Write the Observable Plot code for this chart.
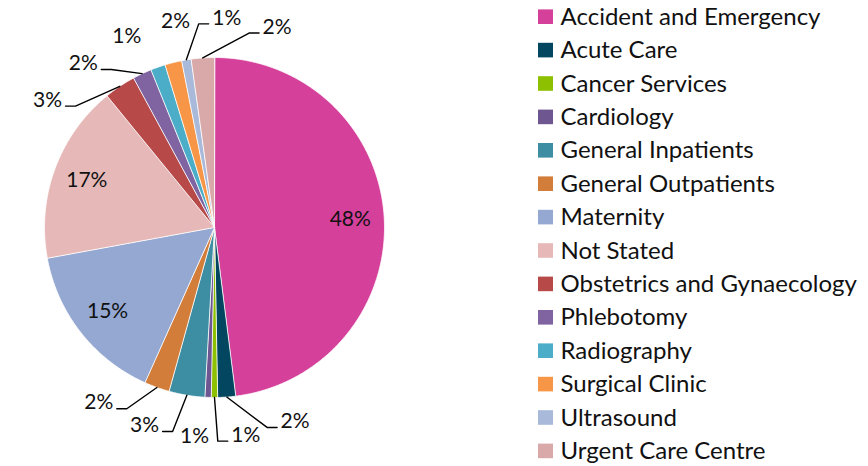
<!DOCTYPE html>
<html>
<head>
<meta charset="utf-8">
<script src="https://cdn.jsdelivr.net/npm/d3@7"></script>
<script src="https://cdn.jsdelivr.net/npm/@observablehq/plot@0.6"></script>
<style>
  html, body { margin: 0; padding: 0; background: #ffffff; }
  #chart svg { display: block; }
</style>
</head>
<body>
<div id="chart"></div>
<script>
// ---- data ----
const categories = [
  "Accident and Emergency", "Acute Care", "Cancer Services", "Cardiology",
  "General Inpatients", "General Outpatients", "Maternity", "Not Stated",
  "Obstetrics and Gynaecology", "Phlebotomy", "Radiography", "Surgical Clinic",
  "Ultrasound", "Urgent Care Centre"
];
const shares = [48.0, 1.7, 0.6, 0.6, 3.4, 2.4, 15.4, 17.0, 3.0, 1.8, 1.4, 1.6, 0.9, 2.2];
const shareLabels = ["48%", "2%", "1%", "1%", "3%", "2%", "15%", "17%", "3%", "2%", "1%", "2%", "1%", "2%"];
const colors = [
  "#D5409A", "#024660", "#8CC000", "#6E5690", "#3D8EA3", "#D37D3A", "#94A8D1",
  "#E6B9B8", "#B74A49", "#8064A2", "#4BADC7", "#F79646", "#A9B9D9", "#D9A9A9"
];

// ---- layout ----
const W = 868, H = 466;
const cx = 214, cy = 227, R = 170;
const font = "Lato, 'Open Sans', sans-serif";
const rad = d => d * Math.PI / 180;
const pt = (deg, r) => [cx + r * Math.sin(rad(deg)), cy - r * Math.cos(rad(deg))];

const rows = categories.map((name, i) => ({name, value: shares[i], label: shareLabels[i], i}));
const arcs = d3.pie().sort(null).value(d => d.value)(rows);

// slice polygons
const poly = [];
arcs.forEach(a => {
  const name = a.data.name;
  poly.push({name, x: cx, y: cy});
  const a0 = a.startAngle * 180 / Math.PI, a1 = a.endAngle * 180 / Math.PI;
  const n = Math.max(2, Math.ceil((a1 - a0) / 0.5));
  for (let k = 0; k <= n; k++) {
    const [x, y] = pt(a0 + (a1 - a0) * k / n, R);
    poly.push({name, x, y});
  }
});

// labels
const inside = [], outside = [];
arcs.forEach(a => {
  const mid = (a.startAngle + a.endAngle) / 2 * 180 / Math.PI;
  const o = {name: a.data.name, label: a.data.label, mid};
  if (a.data.value >= 10) inside.push(o); else outside.push(o);
});
inside.forEach(o => { const [x, y] = pt(o.mid, R * 0.8); o.x = x; o.y = y; });

// spread outside labels along the circle (pool adjacent violators)
function spread(vals, sep) {
  const blocks = [];
  vals.forEach((v, i) => {
    blocks.push({sum: v - i * sep, n: 1});
    while (blocks.length > 1) {
      const b = blocks[blocks.length - 1], a = blocks[blocks.length - 2];
      if (a.sum / a.n > b.sum / b.n) { a.sum += b.sum; a.n += b.n; blocks.pop(); } else break;
    }
  });
  const out = [];
  blocks.forEach(b => { for (let k = 0; k < b.n; k++) out.push(b.sum / b.n); });
  return out.map((v, i) => v + i * sep);
}
const placed = spread(outside.map(o => o.mid), 14);
const leaders = [];
outside.forEach((o, i) => {
  o.pos = placed[i];
  const [x, y] = pt(o.pos, 210);
  o.x = x; o.y = y;
  if (Math.abs(o.pos - o.mid) > 6) {
    const [ax, ay] = pt(o.mid, R);
    const hw = 15;
    let pts;
    if (o.x > ax + 8) {
      const ex = o.x - hw - 3, ey = o.y + 6;
      pts = [[ax, ay], [ex - 10, ey], [ex, ey]];
    } else if (o.x < ax - 8) {
      const ex = o.x + hw + 3, ey = o.y + 6;
      pts = [[ax, ay], [ex + 10, ey], [ex, ey]];
    } else {
      pts = [[ax, ay], [o.x, o.y - 12]];
    }
    pts.forEach(([px, py]) => leaders.push({name: o.name, x: px, y: py}));
  }
});

// legend rows
const legend = categories.map((name, i) => {
  const yc = 16.7 + i * 33.4;
  return {name, x1: 538, x2: 553, y1: yc - 7.3, y2: yc + 7.3, tx: 560, ty: yc};
});

const plot = Plot.plot({
  width: W, height: H,
  marginTop: 0, marginRight: 0, marginBottom: 0, marginLeft: 0,
  x: {domain: [0, W], range: [0, W], axis: null},
  y: {domain: [0, H], range: [0, H], axis: null},
  color: {domain: categories, range: colors},
  style: {fontFamily: font, background: "#ffffff"},
  marks: [
    Plot.line(poly, {x: "x", y: "y", z: "name", fill: "name", stroke: "#ffffff", strokeWidth: 0.8, curve: "linear-closed"}),
    Plot.line(leaders, {x: "x", y: "y", z: "name", stroke: "#000000", strokeWidth: 1.4}),
    Plot.text(inside, {x: "x", y: "y", text: "label", fontSize: 21, fill: "#111111", textAnchor: "middle"}),
    Plot.text(outside, {x: "x", y: "y", text: "label", fontSize: 21, fill: "#111111", textAnchor: "middle"}),
    Plot.rect(legend, {x1: "x1", x2: "x2", y1: "y1", y2: "y2", fill: "name"}),
    Plot.text(legend, {x: "tx", y: "ty", text: "name", fontSize: 24, fill: "#111111", textAnchor: "start"})
  ]
});
document.getElementById("chart").appendChild(plot);
</script>
</body>
</html>
